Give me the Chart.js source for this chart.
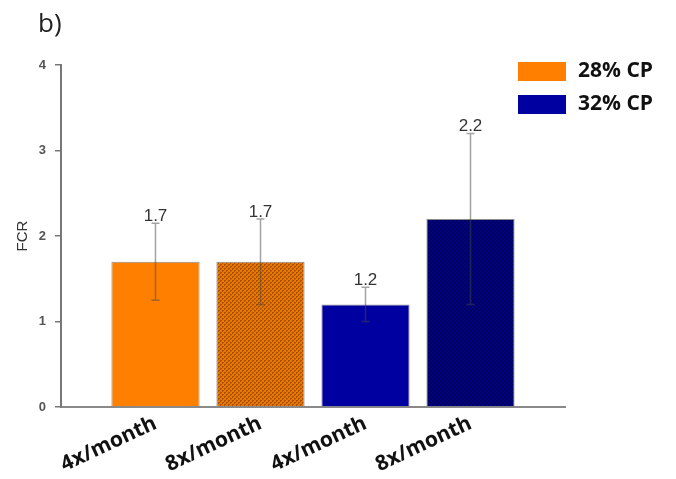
<!DOCTYPE html>
<html>
<head>
<meta charset="utf-8">
<script src="https://cdn.jsdelivr.net/npm/chart.js@4.4.1/dist/chart.umd.min.js"></script>
<style>
  html, body { margin: 0; padding: 0; background: #fff; }
  #wrap { width: 676px; height: 479px; }
</style>
</head>
<body>
<div id="wrap"><canvas id="c" width="676" height="479"></canvas></div>
<script>
// Feeding frequency groups along the x axis
const categories = ['4x/month', '8x/month', '4x/month', '8x/month'];
// Feed conversion ratio (mean) per diet
const cp28Values = [1.7, 1.7];
const cp32Values = [1.2, 2.2];
// Standard deviation per bar
const cp28Errors = [0.45, 0.5];
const cp32Errors = [0.2, 1.0];
const yTicks = [0, 1, 2, 3, 4];

const ORANGE = '#ff8000';
const NAVY = '#0000a0';

// Small dotted texture for the 8x/month bars
function makePattern(base, dot) {
  const p = document.createElement('canvas');
  p.width = 4; p.height = 4;
  const g = p.getContext('2d');
  g.fillStyle = base; g.fillRect(0, 0, 4, 4);
  g.fillStyle = dot;
  g.fillRect(0, 0, 2, 1); g.fillRect(0, 1, 1, 1);
  g.fillRect(2, 2, 2, 1); g.fillRect(2, 3, 1, 1);
  return g.createPattern(p, 'repeat');
}
const ctx0 = document.getElementById('c').getContext('2d');
const orangePattern = makePattern('#ec7800', '#a84e00');
const navyPattern = makePattern('#00008c', '#000050');

const errorBars = {
  id: 'errorBars',
  afterDatasetsDraw(chart) {
    const ctx = chart.ctx;
    const ys = chart.scales.y;
    const errs = [cp28Errors, cp32Errors];
    chart.data.datasets.forEach((ds, di) => {
      const meta = chart.getDatasetMeta(di);
      meta.data.forEach((bar, i) => {
        const v = ds.data[i].y;
        const e = errs[di][i];
        const x = bar.x;
        const yTop = ys.getPixelForValue(v + e);
        const yBot = ys.getPixelForValue(v - e);
        ctx.save();
        ctx.strokeStyle = 'rgba(70,70,70,0.5)';
        ctx.lineWidth = 1.5;
        ctx.beginPath();
        ctx.moveTo(x, yTop); ctx.lineTo(x, yBot);
        ctx.moveTo(x - 4, yTop); ctx.lineTo(x + 4, yTop);
        ctx.moveTo(x - 4, yBot); ctx.lineTo(x + 4, yBot);
        ctx.stroke();
        ctx.fillStyle = '#333';
        ctx.font = '17px "Liberation Sans", Arial, sans-serif';
        ctx.textAlign = 'center';
        ctx.textBaseline = 'alphabetic';
        ctx.fillText(v.toFixed(1), x, yTop - 2);
        ctx.restore();
      });
    });
  }
};

const sideLegend = {
  id: 'sideLegend',
  afterDraw(chart) {
    const ctx = chart.ctx;
    ctx.save();
    chart.data.datasets.forEach((ds, i) => {
      const y = 62 + i * 33;
      ctx.fillStyle = ds.legendColor;
      ctx.fillRect(518, y, 48, 19);
      ctx.fillStyle = '#111';
      ctx.font = 'bold 21px "Open Sans", sans-serif';
      ctx.textBaseline = 'middle';
      ctx.textAlign = 'left';
      ctx.fillText(ds.label, 578, y + 9);
    });
    ctx.fillStyle = '#222';
    ctx.font = '26px "Open Sans", sans-serif';
    ctx.textBaseline = 'alphabetic';
    ctx.fillText('b)', 38, 32);
    ctx.restore();
  }
};

new Chart(ctx0, {
  type: 'bar',
  data: {
    datasets: [
      {
        label: '28% CP',
        legendColor: ORANGE,
        data: cp28Values.map((v, i) => ({ x: i, y: v })),
        backgroundColor: [ORANGE, orangePattern],
        borderColor: '#8a8a8a',
        borderWidth: 1
      },
      {
        label: '32% CP',
        legendColor: NAVY,
        data: cp32Values.map((v, i) => ({ x: i + 2, y: v })),
        backgroundColor: [NAVY, navyPattern],
        borderColor: '#8a8a8a',
        borderWidth: 1
      }
    ]
  },
  options: {
    responsive: false,
    animation: false,
    events: [],
    grouped: false,
    barPercentage: 0.84,
    categoryPercentage: 1,
    layout: { padding: { left: 14, right: 111, top: 65, bottom: 0 } },
    plugins: { legend: { display: false }, tooltip: { enabled: false } },
    scales: {
      x: {
        type: 'linear',
        offset: false,
        min: -0.9,
        max: 3.9,
        afterBuildTicks(scale) { scale.ticks = categories.map((_, i) => ({ value: i })); },
        afterFit(scale) { scale.height = 72; },
        grid: { display: false, drawTicks: false, offset: false },
        border: { display: true, color: '#8a8a8a', width: 2 },
        ticks: {
          autoSkip: false,
          minRotation: 25,
          maxRotation: 25,
          padding: 4,
          color: '#111',
          font: { family: '"Open Sans", sans-serif', size: 21, weight: 'bold' },
          callback: (v) => categories[v]
        }
      },
      y: {
        min: 0,
        max: 4,
        afterBuildTicks(scale) { scale.ticks = yTicks.map(v => ({ value: v })); },
        afterFit(scale) { scale.width = 47; },
        grid: { drawOnChartArea: false, drawTicks: true, tickLength: 6, color: '#777', lineWidth: 1.5 },
        border: { display: true, color: '#777', width: 2 },
        title: {
          display: true,
          text: 'FCR',
          color: '#333',
          padding: 0,
          font: { family: '"Liberation Sans", Arial, sans-serif', size: 15 }
        },
        ticks: {
          padding: 9,
          color: '#555',
          font: { family: '"Liberation Sans", Arial, sans-serif', size: 13, weight: 'bold' }
        }
      }
    }
  },
  plugins: [errorBars, sideLegend]
});
</script>
</body>
</html>
